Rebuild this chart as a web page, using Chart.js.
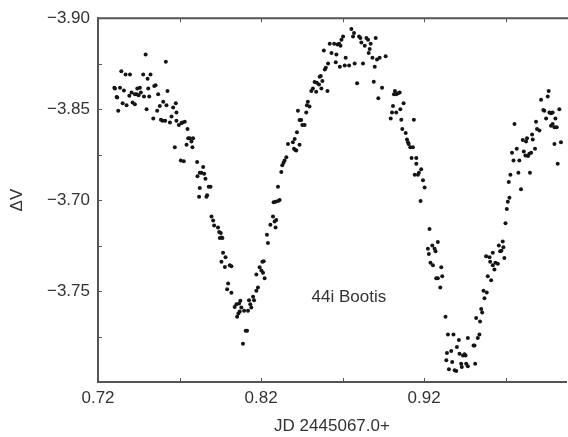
<!DOCTYPE html>
<html>
<head>
<meta charset="utf-8">
<script src="https://cdn.jsdelivr.net/npm/chart.js@4.4.1/dist/chart.umd.min.js"></script>
<style>
  body { margin: 0; background: #fff; }
  #wrap { width: 568px; height: 437px; position: relative; }
</style>
</head>
<body>
<div id="wrap"><canvas id="lightCurve"></canvas></div>
<script>
// 관측 시각 (JD 2445067.0+)
const jd = [
  0.7300,0.7304,0.7335,0.7314,0.7318,0.7324,0.7343,0.7359,0.7369,0.7351,
  0.7375,0.7396,0.7392,0.7406,0.7412,0.7426,0.7426,0.7437,0.7449,0.7441,
  0.7457,0.7463,0.7477,0.7482,0.7492,0.7498,0.7504,0.7508,0.7514,0.7522,
  0.7539,0.7545,0.7553,0.7563,0.7569,0.7579,0.7586,0.7596,0.7600,0.7612,
  0.7616,0.7620,0.7626,0.7641,0.7651,0.7661,0.7671,0.7677,0.7681,0.7681,
  0.7696,0.7708,0.7712,0.7718,0.7726,0.7732,0.7743,0.7749,0.7753,0.7763,
  0.7773,0.7783,0.7779,0.7808,0.7810,0.7824,0.7834,0.7845,0.7851,0.7859,
  0.7824,0.7879,0.7890,0.7820,0.7865,0.7869,
  0.7896,0.7906,0.7912,0.7936,0.7943,0.7957,0.7963,0.7947,0.7953,0.7967,
  0.7982,0.7957,0.7978,0.8008,0.8018,0.7998,0.7992,0.8018,0.8038,0.8049,
  0.8053,0.8061,0.8069,0.8079,0.8073,0.8065,0.8096,0.8106,0.8114,0.8089,
  0.8120,0.8126,0.8134,0.8140,0.8151,0.8157,0.8171,0.8181,0.8171,0.8191,
  0.8202,0.8212,0.8222,0.8216,0.8208,0.8242,0.8236,0.8257,0.8273,0.8289,
  0.8283,0.8293,0.8277,0.8289,0.8304,0.8314,
  0.8304,0.8324,0.8330,0.8338,0.8344,0.8355,0.8365,0.8395,0.8402,0.8410,
  0.8416,0.8406,0.8420,0.8426,0.8436,0.8436,0.8446,0.8453,0.8467,0.8477,
  0.8481,0.8487,0.8497,0.8508,0.8518,0.8528,0.8538,0.8542,0.8555,0.8559,
  0.8566,0.8576,0.8570,0.8607,0.8591,0.8597,0.8611,0.8585,0.8621,0.8632,
  0.8648,0.8658,0.8662,0.8668,0.8679,0.8687,0.8683,0.8693,0.8703,0.8713,
  0.8719,0.8740,0.8754,0.8764,0.8770,0.8774,0.8789,0.8801,0.8809,0.8815,
  0.8825,0.8836,0.8846,0.8856,0.8860,0.8866,0.8872,0.8903,0.8883,0.8897,
  0.8911,0.8927,0.8964,0.8891,0.8919,0.8942,
  0.8995,0.9003,0.9009,0.9015,0.9021,0.9029,0.9040,0.9050,0.9029,0.9054,
  0.9060,0.9074,0.9066,0.9087,0.9095,0.9101,0.9105,0.9115,0.9131,0.9137,
  0.9123,0.9152,0.9152,0.9142,0.9162,0.9168,0.9182,0.9193,0.9203,0.9178,
  0.9233,0.9250,0.9223,0.9229,0.9264,0.9270,0.9284,0.9239,0.9254,0.9274,
  0.9284,0.9311,0.9305,0.9299,0.9331,0.9346,0.9380,0.9340,0.9366,0.9336,
  0.9372,0.9352,0.9387,0.9397,0.9401,0.9413,0.9417,0.9438,0.9448,0.9454,
  0.9427,0.9431,0.9458,0.9468,0.9513,0.9503,0.9509,0.9468,0.9529,0.9539,
  0.9519,0.9543,0.9550,0.9556,0.9570,0.9564,0.9584,
  0.9590,0.9611,0.9621,0.9601,0.9580,0.9605,0.9621,0.9631,0.9637,0.9652,
  0.9658,0.9666,0.9674,0.9682,0.9686,0.9692,0.9699,0.9707,0.9713,0.9723,
  0.9719,0.9729,0.9739,0.9754,0.9768,0.9748,0.9778,0.9784,0.9794,0.9805,
  0.9811,0.9821,0.9825,0.9831,0.9837,0.9845,0.9856,0.9862,0.9866,0.9849,
  0.9880,0.9886,0.9892,0.9907,0.9917,0.9931,0.9937,0.9948,0.9958,0.9964,
  0.9968,0.9978,0.9988,0.9978,0.9988,0.9999,1.0005,1.0013,0.9999,1.0029,
  1.0039,1.0019
];

// 등급차 ΔV
const dV = [
  -3.8618,-3.8613,-3.8618,-3.8567,-3.8564,-3.8491,-3.8709,-3.8602,-3.8691,-3.8533,
  -3.8522,-3.8691,-3.8573,-3.8591,-3.8536,-3.8527,-3.8582,-3.8582,-3.8576,-3.8613,
  -3.8618,-3.8591,-3.8691,-3.8569,-3.8800,-3.8500,-3.8667,-3.8613,-3.8569,-3.8691,
  -3.8449,-3.8627,-3.8631,-3.8491,-3.8582,-3.8518,-3.8442,-3.8436,-3.8540,-3.8436,
  -3.8760,-3.8522,-3.8600,-3.8427,-3.8460,-3.8509,-3.8291,-3.8533,-3.8482,-3.8436,
  -3.8413,-3.8218,-3.8424,-3.8427,-3.8213,-3.8431,-3.8304,-3.8391,-3.8340,-3.8340,
  -3.8322,-3.8340,-3.8291,-3.8209,-3.8131,-3.8151,-3.8151,-3.8182,-3.8145,-3.8118,
  -3.8067,-3.8073,-3.8073,-3.8018,-3.8018,-3.8027,
  -3.7910,-3.7888,-3.7861,-3.7850,-3.7824,-3.7795,-3.7791,-3.7791,-3.7819,-3.7710,
  -3.7686,-3.7661,-3.7632,-3.7642,-3.7637,-3.7541,-3.7510,-3.7491,-3.7413,-3.7428,
  -3.7359,-3.7377,-3.7388,-3.7410,-3.7446,-3.7431,-3.7392,-3.7282,-3.7282,-3.7210,
  -3.7392,-3.7450,-3.7428,-3.7410,-3.7468,-3.7450,-3.7501,-3.7519,-3.7591,-3.7631,
  -3.7613,-3.7601,-3.7570,-3.7664,-3.7661,-3.7764,-3.7810,-3.7864,-3.7910,-3.7850,
  -3.7882,-3.7891,-3.7988,-3.7991,-3.7995,-3.8001,
  -3.8073,-3.8155,-3.8191,-3.8206,-3.8218,-3.8236,-3.8309,-3.8318,-3.8282,-3.8276,
  -3.8273,-3.8336,-3.8373,-3.8491,-3.8304,-3.8440,-3.8440,-3.8413,-3.8413,-3.8482,
  -3.8522,-3.8540,-3.8515,-3.8600,-3.8613,-3.8649,-3.8595,-3.8645,-3.8636,-3.8678,
  -3.8682,-3.8655,-3.8613,-3.8600,-3.8718,-3.8727,-3.8751,-3.8822,-3.8860,-3.8809,
  -3.8860,-3.8758,-3.8800,-3.8855,-3.8860,-3.8849,-3.8733,-3.8882,-3.8900,-3.8740,
  -3.8782,-3.8740,-3.8940,-3.8900,-3.8918,-3.8751,-3.8642,-3.8900,-3.8891,-3.8867,
  -3.8751,-3.8849,-3.8891,-3.8882,-3.8809,-3.8831,-3.8860,-3.8891,-3.8782,-3.8733,
  -3.8773,-3.8782,-3.8791,-3.8651,-3.8560,-3.8618,
  -3.8449,-3.8482,-3.8518,-3.8582,-3.8600,-3.8582,-3.8587,-3.8591,-3.8482,-3.8500,
  -3.8442,-3.8533,-3.8391,-3.8369,-3.8333,-3.8318,-3.8309,-3.8291,-3.8291,-3.8442,
  -3.8231,-3.8231,-3.8200,-3.8140,-3.8140,-3.8151,-3.8169,-3.8109,-3.8069,-3.7995,
  -3.7841,-3.7751,-3.7733,-3.7704,-3.7733,-3.7719,-3.7770,-3.7655,-3.7642,-3.7570,
  -3.7570,-3.7582,-3.7631,-3.7519,-3.7359,-3.7261,-3.7261,-3.7159,-3.7170,-3.7119,
  -3.7110,-3.7070,-3.7064,-3.7061,-3.7192,-3.7231,-3.7155,-3.7146,-3.7152,-3.7146,
  -3.7101,-3.7082,-3.7101,-3.7086,-3.7101,-3.7201,-3.7201,-3.7242,-3.7242,-3.7261,
  -3.7352,-3.7333,-3.7401,-3.7382,-3.7461,-3.7501,-3.7492,
  -3.7582,-3.7559,-3.7710,-3.7686,-3.7691,-3.7661,-3.7642,-3.7619,-3.7655,-3.7650,
  -3.7751,-3.7719,-3.7722,-3.7773,-3.7741,-3.7682,-3.7873,-3.7951,-3.7991,-3.8013,
  -3.8100,-3.8140,-3.8260,-3.8418,-3.8282,-3.8218,-3.8151,-3.8218,-3.8060,-3.8331,
  -3.8267,-3.8245,-3.8322,-3.8340,-3.8242,-3.8255,-3.8260,-3.8360,-3.8333,-3.8151,
  -3.8282,-3.8431,-3.8391,-3.8382,-3.8551,-3.8496,-3.8491,-3.8449,-3.8569,-3.8600,
  -3.8482,-3.8478,-3.8482,-3.8409,-3.8418,-3.8400,-3.8449,-3.8400,-3.8309,-3.8500,
  -3.8318,-3.8200
];

// 축 눈금
const xTicks = [0.72, 0.77, 0.82, 0.87, 0.92, 0.97];
const xTickLabels = ['0.72', '', '0.82', '', '0.92', ''];
const yTicks = [-3.90, -3.875, -3.85, -3.825, -3.80, -3.775, -3.75, -3.725, -3.70];
const yTickLabels = ['\u22123.90', '', '\u22123.85', '', '\u22123.70', '', '\u22123.75', '', ''];

const starName = '44i Bootis';
const starLabelAt = [0.851, -3.7468];

const points = jd.map(function (t, i) { return { x: t, y: dV[i] }; });

Chart.defaults.font.family = "'Liberation Sans', Arial, sans-serif";
Chart.defaults.font.size = 17;
Chart.defaults.color = '#333';

// 안쪽 눈금 + 윗변 + 라벨
const frameLines = {
  id: 'frameLines',
  afterDraw: function (chart) {
    const ctx = chart.ctx;
    const a = chart.chartArea;
    const x = chart.scales.x;
    const y = chart.scales.y;
    ctx.save();
    ctx.strokeStyle = '#555';
    ctx.lineWidth = 1;
    ctx.beginPath();
    xTicks.forEach(function (v) {
      const px = Math.round(x.getPixelForValue(v)) + 0.5;
      ctx.moveTo(px, a.bottom); ctx.lineTo(px, a.bottom - 4);
      ctx.moveTo(px, a.top); ctx.lineTo(px, a.top + 4);
    });
    yTicks.forEach(function (v) {
      const py = Math.round(y.getPixelForValue(v)) + 0.5;
      ctx.moveTo(a.left, py); ctx.lineTo(a.left + 4, py);
    });
    ctx.stroke();
    ctx.lineWidth = 2;
    ctx.beginPath();
    ctx.moveTo(a.left - 1, a.top);
    ctx.lineTo(a.right + 2, a.top);
    ctx.stroke();
    ctx.fillStyle = '#333';
    ctx.font = "17px 'Liberation Sans', Arial, sans-serif";
    ctx.textAlign = 'left';
    ctx.textBaseline = 'middle';
    ctx.fillText(starName, x.getPixelForValue(starLabelAt[0]), y.getPixelForValue(starLabelAt[1]));
    ctx.restore();
  }
};

const ctx = document.getElementById('lightCurve').getContext('2d');
const myChart = new Chart(ctx, {
  type: 'scatter',
  data: {
    datasets: [{
      label: 'ΔV',
      data: points,
      pointRadius: 2,
      pointHoverRadius: 2,
      borderWidth: 0,
      backgroundColor: '#151515'
    }]
  },
  options: {
    responsive: true,
    maintainAspectRatio: false,
    animation: false,
    layout: { padding: { top: 15, right: 2, left: 0, bottom: 0 } },
    plugins: { legend: { display: false }, tooltip: { enabled: false } },
    scales: {
      x: {
        type: 'linear',
        min: 0.72,
        max: 1.007,
        afterBuildTicks: function (s) { s.ticks = xTicks.map(function (v) { return { value: v }; }); },
        afterFit: function (s) { s.height = 55; },
        grid: { display: false, drawTicks: false },
        border: { color: '#555', width: 2 },
        ticks: {
          padding: 6,
          maxRotation: 0,
          autoSkip: false,
          color: '#333',
          callback: function (value, index) { return xTickLabels[index]; }
        },
        title: {
          display: true,
          text: 'JD 2445067.0+',
          color: '#333',
          padding: { top: 0, bottom: 0 }
        }
      },
      y: {
        type: 'linear',
        min: -3.90,
        max: -3.70,
        reverse: true,
        afterBuildTicks: function (s) { s.ticks = yTicks.map(function (v) { return { value: v }; }); },
        afterFit: function (s) { s.width = 98; },
        grid: { display: false, drawTicks: false },
        border: { color: '#555', width: 2 },
        ticks: {
          padding: 8,
          autoSkip: false,
          color: '#333',
          callback: function (value, index) { return yTickLabels[index]; }
        },
        title: {
          display: true,
          text: 'ΔV',
          color: '#333',
          padding: { top: 7, bottom: 0 }
        }
      }
    }
  },
  plugins: [frameLines]
});
</script>
</body>
</html>
